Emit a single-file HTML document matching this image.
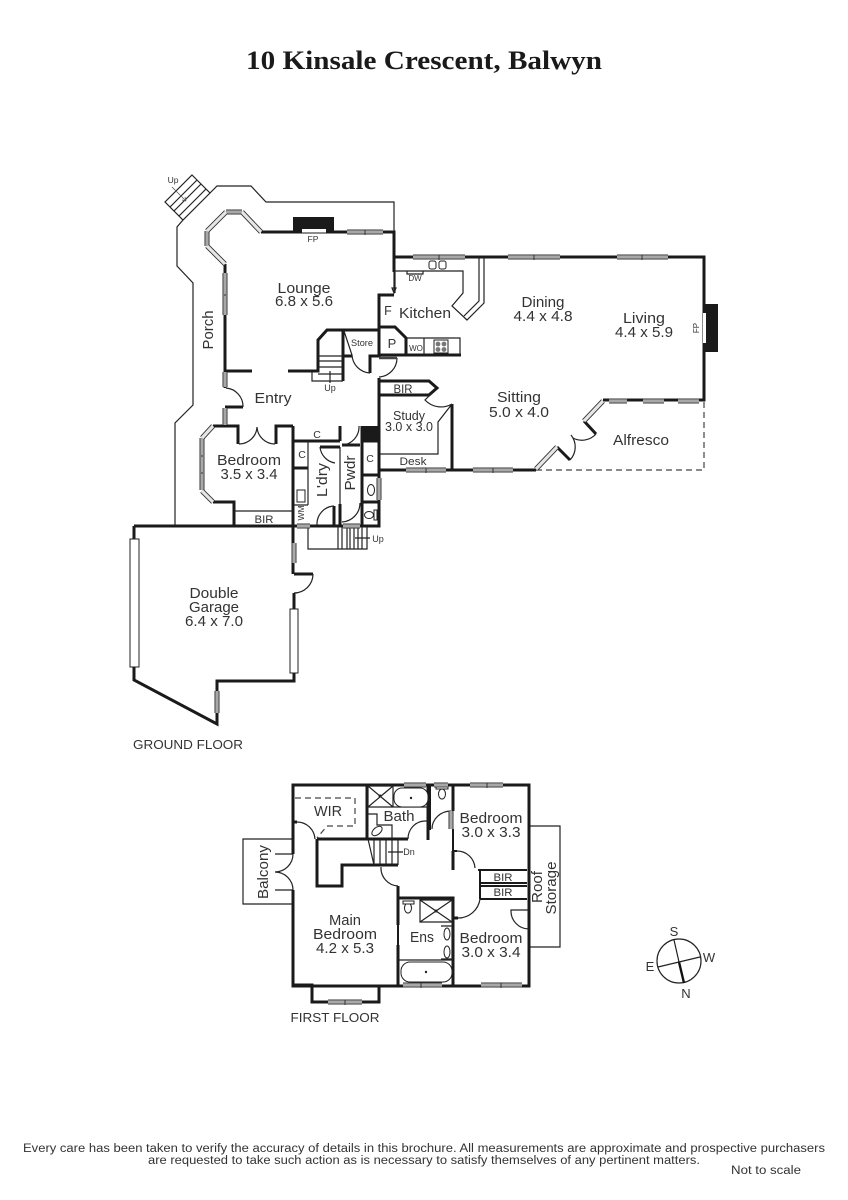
<!DOCTYPE html>
<html><head><meta charset="utf-8"><style>
html,body{margin:0;padding:0;background:#fff}
svg{display:block}
text{font-family:"Liberation Sans",sans-serif;fill:#333;text-anchor:middle;font-size:15px}
.s{font-size:10.5px}.xs{font-size:8px}.m{font-size:12.5px}
.w{fill:none;stroke:#1a1a1a;stroke-width:3;stroke-linejoin:miter}
.w2{fill:none;stroke:#1a1a1a;stroke-width:2}
.t{fill:none;stroke:#222;stroke-width:1.2}
.l{fill:none;stroke:#555;stroke-width:.8}
.d{fill:none;stroke:#444;stroke-width:1.2;stroke-dasharray:6 4}
.wb{fill:none;stroke:#333;stroke-width:5}
.wf{fill:none;stroke:#a8a8a8;stroke-width:3.2}
.wh{fill:none;stroke:#e6e6e6;stroke-width:3.2}
.g{fill:#fff;stroke:#222;stroke-width:1}
</style></head><body>
<svg width="848" height="1200" viewBox="0 0 848 1200" xmlns="http://www.w3.org/2000/svg">
<defs>
<path id="win" d="M347 232H383M413 257H465M508 257H560M617 257H668M609 401H627M643 401H664M678 401H699M406 470H446M473 470H513M207 231V246M225 273V315M225 372V387M225 408V425M202 438V490M379 478V500M294 543V563M217 691V713M404 785H426M434 785H448M470 785H503M403 985H442M481 985H522M328 1002H362M297 526H310M343 526H360M226 212H242M451 811V829"/>
<path id="gl" d="M261 232L242 212M226 212L207 231M207 246L225 264M603 401L584 421M557 447L536 469M213 426L202 438M202 491L213 502"/>
</defs>

<text x="424" y="69" style="font-family:'Liberation Serif',serif;font-weight:bold;font-size:26.5px;fill:#1a1a1a" textLength="356" lengthAdjust="spacingAndGlyphs">10 Kinsale Crescent, Balwyn</text>

<!-- ground thin outlines -->
<path class="t" d="M183 220L177 227V266L193 283V405L175 423V527M210 193L217 186H251L266 202H394V293"/>
<path class="t" d="M192 175L210 193L183 220L165 202ZM197 180L170 207M201 184L174 211M206 189L179 216"/>
<path class="l" d="M172 187L186 201M186 201l-4-1M186 201l-1-4"/>
<text x="173" y="183" style="font-size:8.5px">Up</text>

<!-- ground walls -->
<path class="w" d="M261 232H394V272M225 264V374M225 371H252M288 371H318V340L327 330H379V295H394"/>
<path class="w" d="M394 257H704V400H603"/>
<rect x="293" y="217" width="41" height="15" fill="#1a1a1a"/>
<rect x="302" y="229" width="24" height="3.5" fill="#fff"/>
<rect x="704" y="304" width="14" height="48" fill="#1a1a1a"/>
<rect x="703" y="313" width="3" height="30" fill="#fff"/>
<path class="w" d="M584 421L596 434M570 460L557 447M536 470H379V378M452 470V404"/>
<path class="w" d="M380 381H429L437 388L429 395H380"/>
<path class="w" d="M379 327H395L406 338V355M379 355H461M343 330V381M379 330V356H370V373M343 356H352"/>
<path class="w" d="M225 388V386M225 407H243M213 426H238V444M276 444V426H293M213 502H234V526M293 426V574M134 526H379V426M293 441H340M340 426V441M340 447H320M293 468H308M340 504V526M334 506V526M342 445H360M362 426V526M362 441H379M362 475H379M362 502H379"/>
<rect x="362" y="426" width="17" height="15" fill="#1a1a1a"/>
<path class="w" d="M134 526V539M134 667V680L217 724V681H294V673M294 609V593M294 574H313"/>
<path class="t" d="M313 574A19 19 0 0 1 294 593"/>
<rect x="130" y="539" width="9" height="128" class="g"/>
<rect x="290" y="609" width="8" height="64" class="g"/>

<!-- thin ground -->
<path class="t" d="M395 271H463V293L452 306L467 320L484 303V258M479 258V301L464 316"/>
<path class="t" d="M407 271v3h16v-3M395 272V293M394 293l-2-5h4z"/>
<rect x="429" y="261" width="7" height="8" rx="2" class="g"/><rect x="439" y="261" width="7" height="8" rx="2" class="g"/>
<path class="t" d="M407 338H460V355M424 338V355"/>
<rect x="434" y="340" width="14" height="13" class="g"/>
<g fill="#777"><circle cx="438" cy="344" r="2.4"/><circle cx="444" cy="344" r="2.4"/><circle cx="438" cy="349.500" r="2.4"/><circle cx="444" cy="349.500" r="2.4"/></g>
<path class="t" d="M452 404L438 422V454H380M432 393L425 400A22 22 0 0 0 452 404"/>
<path class="t" d="M596 434A19 19 0 0 1 573 438M571 435A19 19 0 0 1 570 460"/>
<path class="t" d="M344 331L352 355A19 19 0 0 0 370 373M318 356H343M318 361H343M318 367H343M318 374H343M312 372V381H343M330 383V371"/>
<path class="t" d="M397 358A19 19 0 0 1 379 377"/>
<path d="M379 358H397" stroke="#444" stroke-width="2.5" fill="none"/>
<path class="t" d="M226 388A18.500 18.500 0 0 1 243 407"/>
<path class="t" d="M239 444A18 18 0 0 0 257 427A18 18 0 0 0 275 444"/>
<path class="t" d="M235 511H293M320 447A18 18 0 0 0 335 463M342 445A18 18 0 0 0 359 426M308 441V505M294 505H308M340 447V507M317 525A18 18 0 0 1 334 506M360 503A19 19 0 0 1 342 522"/>
<rect x="297" y="490" width="8" height="12" class="g"/>
<ellipse cx="371" cy="490" rx="3.500" ry="5.500" class="g"/>
<ellipse cx="369" cy="515" rx="4.500" ry="3.500" class="g"/><rect x="374" y="510" width="3" height="10" class="g"/>
<path class="t" d="M308 527V549H367V527M338 527V549M342 527V549M347 527V549M350 527V549M354 527V549M358 527V549M362 527V549M370 538H355"/>
<path class="d" d="M536 470H704V402"/>

<!-- first floor -->
<path class="t" d="M293 839H243V904H293M529 826H560V947H529"/>
<path class="t" d="M275 854H293M293 854A18 18 0 0 1 275 872M275 890H293M293 890A18 18 0 0 0 275 872M297 822A18 18 0 0 1 315 839"/>
<path class="w" d="M293 854V785H529V986H293V890M293 985H312V1002H379V985"/>
<path class="w" d="M293 822H297M317 839H368M367 786V839M367 839H408M428 785V840M453 785V811M453 851V870M317 839V886H342V865H398M398 886V925M398 945V985M398 898H453V985M453 918H458"/>
<path class="w2" d="M453 829V851M430 785V830M453 851H457M478 870H527M480 883H527M480 886H527M480 899H527M480 870V899M398 945V925"/>
<path class="d" d="M295 798H355V826H327L317 838"/>
<path class="t" d="M368 786H393V807H368ZM368 786L393 807M393 786L368 807M368 814H377V825H392V838M368 807H428"/>
<rect x="394" y="788" width="34" height="19" rx="8" class="g"/><circle cx="411" cy="798" r="1.200" fill="#222"/>
<ellipse cx="377" cy="831" rx="6" ry="3.500" transform="rotate(-40 377 831)" class="g"/>
<ellipse cx="442" cy="794" rx="3.500" ry="5" class="g"/><rect x="436" y="786" width="12" height="3" class="g"/>
<path class="t" d="M408 839A17 18 0 0 1 425 821H428M432 829A19 18 0 0 1 451 811M457 851A18 18 0 0 1 475 868M480 899A22 22 0 0 1 458 918M529 910H511A18 18 0 0 0 529 929M381 867A18 18 0 0 0 398 886M368 839L374 865M374 840V865M380 840V865M386 840V865M392 840V865M398 840V865M403 852H388"/>
<path class="t" d="M420 900H452V922H420ZM420 900L452 922M452 900L420 922M398 960H453M441 926H452V959H441"/>
<ellipse cx="447" cy="934" rx="3" ry="6" class="g"/><ellipse cx="447" cy="952" rx="3" ry="6" class="g"/>
<rect x="401" y="962" width="51" height="20" rx="9" class="g"/><circle cx="426" cy="972" r="1.200" fill="#222"/>
<ellipse cx="408" cy="908" rx="3.500" ry="5" class="g"/><rect x="403" y="901" width="11" height="3" class="g"/>
<circle cx="380" cy="796" r="1.500" fill="#222"/><circle cx="436" cy="911" r="1.500" fill="#222"/>

<!-- windows -->
<use href="#win" class="wb"/><use href="#win" class="wf"/>
<use href="#gl" class="wb"/><use href="#gl" class="wh"/>
<path d="M365 230v5M439 255v5M534 255v5M642 255v5M426 468v5M493 468v5M345 1000v5M501 983v5M421 983v5M487 783v5M225 294v2M202 455v2M202 472v2" stroke="#333" stroke-width="1"/>

<!-- compass -->
<circle cx="679" cy="961" r="22" fill="none" stroke="#222" stroke-width="1.200"/>
<path d="M674 940L679 962" stroke="#222" stroke-width="1.200"/><path d="M679 962L684 983" stroke="#111" stroke-width="2.400"/><path d="M658 967L700 957" stroke="#222" stroke-width="1.200"/>

<!-- labels -->
<g lengthAdjust="spacingAndGlyphs">
<text x="304" y="293" textLength="53" lengthAdjust="spacingAndGlyphs">Lounge</text><text x="304" y="306" textLength="58" lengthAdjust="spacingAndGlyphs">6.8 x 5.6</text>
<text transform="translate(213 330) rotate(-90)" textLength="39" lengthAdjust="spacingAndGlyphs">Porch</text>
<text x="273" y="403" textLength="37" lengthAdjust="spacingAndGlyphs">Entry</text>
<text x="425" y="318" textLength="52" lengthAdjust="spacingAndGlyphs">Kitchen</text>
<text x="388" y="315" class="m">F</text>
<text x="362" y="346" style="font-size:9.5px" textLength="22" lengthAdjust="spacingAndGlyphs">Store</text>
<text x="392" y="348" style="font-size:13px">P</text>
<text x="416" y="351" style="font-size:8px">WO</text>
<text x="415" y="281" class="xs">DW</text>
<text x="313" y="242" class="xs" textLength="11" lengthAdjust="spacingAndGlyphs">FP</text>
<text x="330" y="391" style="font-size:9px">Up</text>
<text x="543" y="307" textLength="43" lengthAdjust="spacingAndGlyphs">Dining</text><text x="543" y="321" textLength="59" lengthAdjust="spacingAndGlyphs">4.4 x 4.8</text>
<text x="644" y="323" textLength="42" lengthAdjust="spacingAndGlyphs">Living</text><text x="644" y="337" textLength="58" lengthAdjust="spacingAndGlyphs">4.4 x 5.9</text>
<text transform="translate(699 328) rotate(-90)" class="xs">FP</text>
<text x="519" y="402" textLength="44" lengthAdjust="spacingAndGlyphs">Sitting</text><text x="519" y="417" textLength="60" lengthAdjust="spacingAndGlyphs">5.0 x 4.0</text>
<text x="641" y="445" textLength="56" lengthAdjust="spacingAndGlyphs">Alfresco</text>
<text x="409" y="420" class="m" textLength="32" lengthAdjust="spacingAndGlyphs">Study</text><text x="409" y="431" class="m" textLength="48" lengthAdjust="spacingAndGlyphs">3.0 x 3.0</text>
<text x="403" y="393" style="font-size:11.500px" textLength="19" lengthAdjust="spacingAndGlyphs">BIR</text>
<text x="413" y="465" style="font-size:11px" textLength="27" lengthAdjust="spacingAndGlyphs">Desk</text>
<text x="249" y="465" textLength="64" lengthAdjust="spacingAndGlyphs">Bedroom</text><text x="249" y="479" textLength="57" lengthAdjust="spacingAndGlyphs">3.5 x 3.4</text>
<text x="264" y="523" style="font-size:11px" textLength="19" lengthAdjust="spacingAndGlyphs">BIR</text>
<text x="317" y="438" class="s">C</text>
<text x="302" y="458" class="s">C</text>
<text x="370" y="462" class="s">C</text>
<text transform="translate(327 480) rotate(-90)" textLength="34" lengthAdjust="spacingAndGlyphs">L'dry</text>
<text transform="translate(355 473) rotate(-90)" textLength="35" lengthAdjust="spacingAndGlyphs">Pwdr</text>
<text transform="translate(304 513) rotate(-90)" style="font-size:8.500px">WM</text>
<text x="378" y="542" style="font-size:9px">Up</text>
<text x="214" y="598" textLength="49" lengthAdjust="spacingAndGlyphs">Double</text><text x="214" y="612" textLength="50" lengthAdjust="spacingAndGlyphs">Garage</text><text x="214" y="626" textLength="58" lengthAdjust="spacingAndGlyphs">6.4 x 7.0</text>
<text x="188" y="749" class="m" textLength="110" lengthAdjust="spacingAndGlyphs">GROUND FLOOR</text>

<text x="328" y="816" textLength="28" lengthAdjust="spacingAndGlyphs">WIR</text>
<text x="399" y="821" textLength="31" lengthAdjust="spacingAndGlyphs">Bath</text>
<text x="491" y="823" textLength="63" lengthAdjust="spacingAndGlyphs">Bedroom</text><text x="491" y="837" textLength="59" lengthAdjust="spacingAndGlyphs">3.0 x 3.3</text>
<text x="491" y="943" textLength="63" lengthAdjust="spacingAndGlyphs">Bedroom</text><text x="491" y="957" textLength="59" lengthAdjust="spacingAndGlyphs">3.0 x 3.4</text>
<text transform="translate(268 872) rotate(-90)" textLength="54" lengthAdjust="spacingAndGlyphs">Balcony</text>
<text x="345" y="925" textLength="32" lengthAdjust="spacingAndGlyphs">Main</text><text x="345" y="939" textLength="64" lengthAdjust="spacingAndGlyphs">Bedroom</text><text x="345" y="953" textLength="58" lengthAdjust="spacingAndGlyphs">4.2 x 5.3</text>
<text x="422" y="942" textLength="24" lengthAdjust="spacingAndGlyphs">Ens</text>
<text x="503" y="881" style="font-size:11px" textLength="19" lengthAdjust="spacingAndGlyphs">BIR</text>
<text x="503" y="896" style="font-size:11px" textLength="19" lengthAdjust="spacingAndGlyphs">BIR</text>
<text transform="translate(542 887) rotate(-90)" textLength="32" lengthAdjust="spacingAndGlyphs">Roof</text>
<text transform="translate(556 888) rotate(-90)" textLength="53" lengthAdjust="spacingAndGlyphs">Storage</text>
<text x="409" y="855" style="font-size:9px">Dn</text>
<text x="335" y="1022" class="m" textLength="89" lengthAdjust="spacingAndGlyphs">FIRST FLOOR</text>
<text x="674" y="936" style="font-size:13px">S</text><text x="650" y="971" style="font-size:13px">E</text><text x="709" y="962" style="font-size:13px">W</text><text x="686" y="998" style="font-size:13px">N</text>
</g>

<text x="424" y="1152" style="font-size:11.500px" textLength="802" lengthAdjust="spacingAndGlyphs">Every care has been taken to verify the accuracy of details in this brochure.  All measurements are approximate and prospective purchasers</text>
<text x="424" y="1164" style="font-size:11.500px" textLength="552" lengthAdjust="spacingAndGlyphs">are requested to take such action as is necessary to satisfy themselves of any pertinent matters.</text>
<text x="766" y="1174" style="font-size:11.500px" textLength="70" lengthAdjust="spacingAndGlyphs">Not to scale</text>
</svg>
</body></html>
